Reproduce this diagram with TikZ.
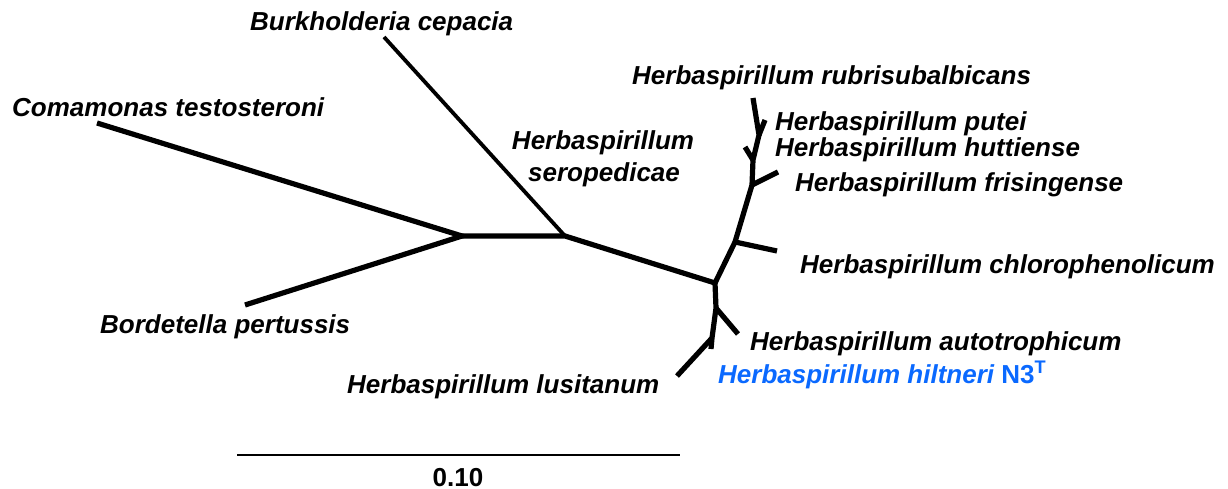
\documentclass[tikz,border=0pt]{standalone}
\usepackage{fontspec}
\setmainfont{Liberation Sans}
\definecolor{newstrain}{RGB}{10,105,255}
\begin{document}
\begin{tikzpicture}[x=1pt,y=-1pt,
  branch/.style={line width=5.2pt},
  thinbranch/.style={line width=3.8pt},
  taxon/.style={inner sep=0pt, anchor=base west,
    font=\fontsize{26}{32}\selectfont\bfseries\itshape},
  scalelabel/.style={inner sep=0pt, anchor=base,
    font=\fontsize{26}{32}\selectfont\bfseries}]
\useasboundingbox (0,0) rectangle (1228,489);

% internal nodes of the unrooted tree
\coordinate (A) at (462,236);
\coordinate (B) at (565,236);
\coordinate (C) at (715,283);
\coordinate (D) at (735,242);
\coordinate (E) at (752,185);
\coordinate (F) at (753,160);
\coordinate (G) at (759,135);
\coordinate (H) at (716,308);
\coordinate (I) at (712,338);

% leaf tips
\coordinate (coma) at (97,123);
\coordinate (bord) at (245,305);
\coordinate (burk) at (384,37);
\coordinate (rubr) at (753,98);
\coordinate (pute) at (765,120);
\coordinate (hutt) at (745,147);
\coordinate (fris) at (778,172);
\coordinate (chlo) at (777,251);
\coordinate (auto) at (738,334);
\coordinate (lusi) at (677,376);
\coordinate (hilt) at (711,349);

% branches
\draw[branch] (coma) -- (A) -- (bord);
\draw[branch] (A) -- (B) -- (C);
\draw[thinbranch] (B) -- (burk);
\draw[branch] (C) -- (D) -- (E) -- (F) -- (G) -- (rubr);
\draw[branch] (D) -- (chlo);
\draw[branch] (E) -- (fris);
\draw[branch] (F) -- (hutt);
\draw[branch] (G) -- (pute);
\draw[branch] (C) -- (H) -- (I) -- (hilt);
\draw[branch] (H) -- (auto);
\draw[branch] (I) -- (lusi);

% taxon labels
\node[taxon] (lburk) at (250,31) {Burkholderia cepacia};
\node[taxon] (lcoma) at (12,117) {Comamonas testosteroni};
\node[taxon, anchor=base] (lsero1) at (603,150) {Herbaspirillum};
\node[taxon, anchor=base] (lsero2) at (604,182) {seropedicae};
\node[taxon] (lrubr) at (632,85) {Herbaspirillum rubrisubalbicans};
\node[taxon] (lpute) at (775,131) {Herbaspirillum putei};
\node[taxon] (lhutt) at (775,157) {Herbaspirillum huttiense};
\node[taxon] (lfris) at (795,192) {Herbaspirillum frisingense};
\node[taxon] (lchlo) at (800,273) {Herbaspirillum chlorophenolicum};
\node[taxon] (lauto) at (750,350) {Herbaspirillum autotrophicum};
\node[taxon, text=newstrain] (lhilt) at (718,383) {Herbaspirillum hiltneri \upshape N3\textsuperscript{T}};
\node[taxon] (llusi) at (347,393) {Herbaspirillum lusitanum};
\node[taxon] (lbord) at (100,333) {Bordetella pertussis};

% scale bar
\coordinate (sb1) at (237,455);
\coordinate (sb2) at (680,455);
\draw[line width=2pt] (sb1) -- (sb2);
\node[scalelabel] (lscale) at (458,486) {0.10};
\end{tikzpicture}
\end{document}
